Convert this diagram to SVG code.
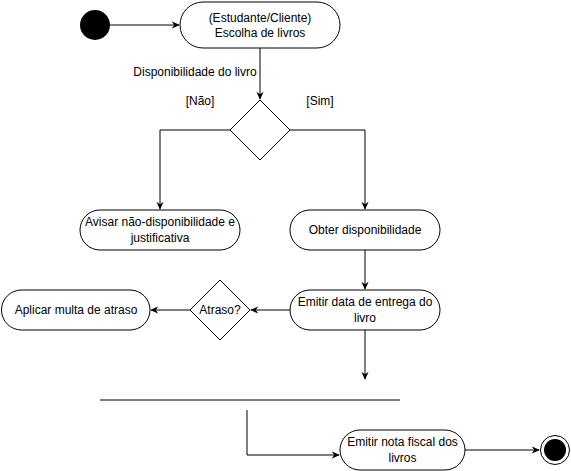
<svg xmlns="http://www.w3.org/2000/svg" width="571" height="471" viewBox="0 0 571 471">
<defs>
<marker id="arr" viewBox="0 0 10 10" refX="9" refY="5" markerWidth="8" markerHeight="8" markerUnits="userSpaceOnUse" orient="auto">
<path d="M0,0.5 L10,5 L0,9.5 L3,5 Z" fill="#000"/>
</marker>
<style>
.n{fill:#fff;stroke:#000;stroke-width:1}
.t{font-family:"Liberation Sans",Arial,sans-serif;font-size:12px;fill:#000;text-anchor:middle}
.c{fill:none;stroke:#000;stroke-width:1}
</style>
</defs>
<rect width="571" height="471" fill="#fff"/>
<g id="connectors">
<path class="c" d="M110,25 H179" marker-end="url(#arr)"/>
<path class="c" d="M260,48 V99" marker-end="url(#arr)"/>
<path class="c" d="M230,130 H160 V209" marker-end="url(#arr)"/>
<path class="c" d="M290,130 H365 V209" marker-end="url(#arr)"/>
<path class="c" d="M365,250 V289" marker-end="url(#arr)"/>
<path class="c" d="M290,310 H251" marker-end="url(#arr)"/>
<path class="c" d="M190,310 H151" marker-end="url(#arr)"/>
<path class="c" d="M365,330 V379" marker-end="url(#arr)"/>
<path class="c" d="M247,410 V455 H339" marker-end="url(#arr)"/>
<path class="c" d="M465,450 H539" marker-end="url(#arr)"/>
<text class="t" x="195" y="76">Disponibilidade do livro</text>
<text class="t" x="200" y="105">[Não]</text>
<text class="t" x="320" y="105">[Sim]</text>
</g>
<g id="start"><circle cx="95" cy="25" r="15" fill="#000"/></g>
<g id="escolha">
<rect class="n" x="180" y="2" width="160" height="46" rx="23"/>
<text class="t" x="260" y="22">(Estudante/Cliente)</text>
<text class="t" x="260" y="37">Escolha de livros</text>
</g>
<g id="decisao"><path class="n" d="M260,100 L290,130 L260,160 L230,130 Z"/></g>
<g id="avisar">
<rect class="n" x="80" y="210" width="160" height="40" rx="20"/>
<text class="t" x="160" y="226">Avisar não-disponibilidade e</text>
<text class="t" x="160" y="242">justificativa</text>
</g>
<g id="obter">
<rect class="n" x="290" y="210" width="150" height="40" rx="20"/>
<text class="t" x="365" y="234">Obter disponibilidade</text>
</g>
<g id="emitirdata">
<rect class="n" x="290" y="290" width="150" height="40" rx="20"/>
<text class="t" x="365" y="306">Emitir data de entrega do</text>
<text class="t" x="365" y="322">livro</text>
</g>
<g id="atraso">
<path class="n" d="M220,280 L250,310 L220,340 L190,310 Z"/>
<text class="t" x="220" y="314">Atraso?</text>
</g>
<g id="multa">
<rect class="n" x="1.5" y="290" width="148.5" height="40" rx="20"/>
<text class="t" x="76" y="314">Aplicar multa de atraso</text>
</g>
<g id="barra"><line x1="100" y1="400" x2="400" y2="400" stroke="#000" stroke-width="1"/></g>
<g id="nota">
<rect class="n" x="340" y="430" width="125" height="40" rx="20"/>
<text class="t" x="402.5" y="446">Emitir nota fiscal dos</text>
<text class="t" x="402.5" y="462">livros</text>
</g>
<g id="fim">
<circle cx="555" cy="450" r="14.5" fill="#fff" stroke="#000"/>
<circle cx="555" cy="450" r="11" fill="#000"/>
</g>
</svg>
